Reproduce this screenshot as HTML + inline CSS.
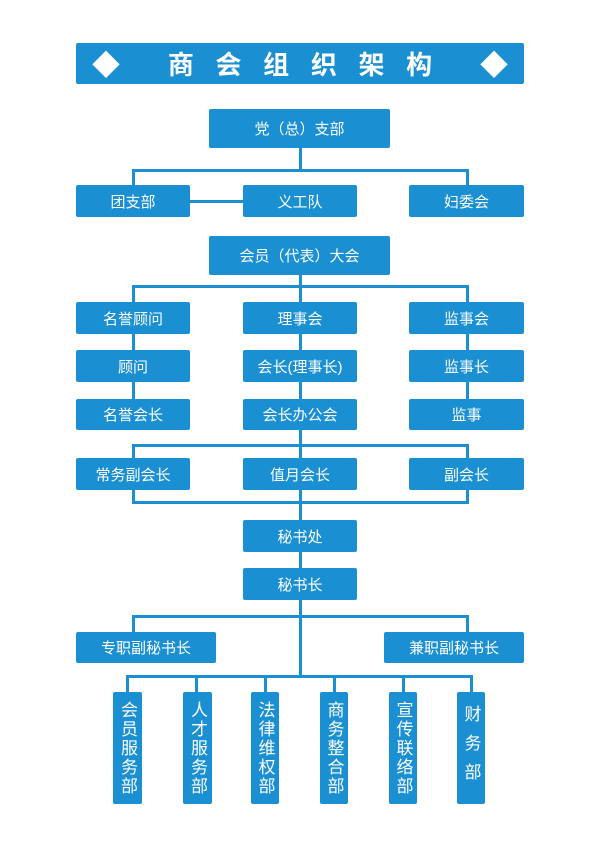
<!DOCTYPE html>
<html><head><meta charset="utf-8"><style>
body{margin:0;width:600px;height:848px;background:#fff;position:relative;overflow:hidden;font-family:"Liberation Sans","Noto Sans CJK SC",sans-serif}
.b{position:absolute;background:#1a8fd2;color:#fff;display:flex;align-items:center;justify-content:center;font-size:15px;border-radius:2px}
.l{position:absolute;background:#1a8fd2}
.v{writing-mode:vertical-rl;font-size:17px;line-height:1;letter-spacing:2px}
</style></head><body>
<div class="b" style="left:76px;top:43px;width:448px;height:41px;font-size:26px;font-weight:bold;letter-spacing:0">
<span style="position:absolute;left:16px;font-size:28px">◆</span>
<span style="word-spacing:0">商&nbsp;&nbsp;&nbsp;会&nbsp;&nbsp;&nbsp;组&nbsp;&nbsp;&nbsp;织&nbsp;&nbsp;&nbsp;架&nbsp;&nbsp;&nbsp;构</span>
<span style="position:absolute;right:16px;font-size:28px">◆</span></div>

<div class="l" style="left:299px;top:148px;width:3px;height:23px"></div>
<div class="l" style="left:132px;top:169px;width:337px;height:3px"></div>
<div class="l" style="left:132px;top:169px;width:3px;height:17px"></div>
<div class="l" style="left:466px;top:169px;width:3px;height:17px"></div>
<div class="l" style="left:190px;top:200px;width:53px;height:3px"></div>

<div class="l" style="left:299px;top:275px;width:3px;height:361px"></div>
<div class="l" style="left:132px;top:285px;width:337px;height:3px"></div>
<div class="l" style="left:132px;top:285px;width:3px;height:115px"></div>
<div class="l" style="left:466px;top:285px;width:3px;height:115px"></div>
<div class="l" style="left:132px;top:444px;width:337px;height:3px"></div>
<div class="l" style="left:132px;top:444px;width:3px;height:60px"></div>
<div class="l" style="left:466px;top:444px;width:3px;height:60px"></div>
<div class="l" style="left:132px;top:501px;width:337px;height:3px"></div>
<div class="l" style="left:132px;top:615px;width:337px;height:3px"></div>
<div class="l" style="left:132px;top:615px;width:3px;height:18px"></div>
<div class="l" style="left:466px;top:615px;width:3px;height:18px"></div>
<div class="l" style="left:299px;top:615px;width:3px;height:63px"></div>
<div class="l" style="left:126px;top:675px;width:347px;height:3px"></div>
<div class="l" style="left:126px;top:675px;width:3px;height:18px"></div>
<div class="l" style="left:195px;top:675px;width:3px;height:18px"></div>
<div class="l" style="left:264px;top:675px;width:3px;height:18px"></div>
<div class="l" style="left:333px;top:675px;width:3px;height:18px"></div>
<div class="l" style="left:402px;top:675px;width:3px;height:18px"></div>
<div class="l" style="left:470px;top:675px;width:3px;height:18px"></div>

<div class="b" style="left:209px;top:109px;width:181px;height:39px">党（总）支部</div>
<div class="b" style="left:76px;top:185px;width:114px;height:32px">团支部</div>
<div class="b" style="left:243px;top:185px;width:114px;height:32px">义工队</div>
<div class="b" style="left:409px;top:185px;width:115px;height:32px">妇委会</div>
<div class="b" style="left:209px;top:236px;width:181px;height:39px">会员（代表）大会</div>

<div class="b" style="left:76px;top:302px;width:114px;height:32px">名誉顾问</div>
<div class="b" style="left:243px;top:302px;width:114px;height:32px">理事会</div>
<div class="b" style="left:409px;top:302px;width:115px;height:32px">监事会</div>
<div class="b" style="left:76px;top:350px;width:114px;height:32px">顾问</div>
<div class="b" style="left:243px;top:350px;width:114px;height:32px">会长(理事长)</div>
<div class="b" style="left:409px;top:350px;width:115px;height:32px">监事长</div>
<div class="b" style="left:76px;top:399px;width:114px;height:31px">名誉会长</div>
<div class="b" style="left:243px;top:399px;width:114px;height:31px">会长办公会</div>
<div class="b" style="left:409px;top:399px;width:115px;height:31px">监事</div>

<div class="b" style="left:76px;top:458px;width:114px;height:32px">常务副会长</div>
<div class="b" style="left:243px;top:458px;width:114px;height:32px">值月会长</div>
<div class="b" style="left:409px;top:458px;width:115px;height:32px">副会长</div>
<div class="b" style="left:243px;top:520px;width:114px;height:32px">秘书处</div>
<div class="b" style="left:243px;top:568px;width:114px;height:32px">秘书长</div>
<div class="b" style="left:76px;top:632px;width:140px;height:31px">专职副秘书长</div>
<div class="b" style="left:384px;top:632px;width:140px;height:31px">兼职副秘书长</div>

<div class="b" style="left:113px;top:692px;width:29px;height:112px"><span class="v">会员服务部</span></div>
<div class="b" style="left:183px;top:692px;width:29px;height:112px"><span class="v">人才服务部</span></div>
<div class="b" style="left:251px;top:692px;width:28px;height:112px"><span class="v">法律维权部</span></div>
<div class="b" style="left:320px;top:692px;width:28px;height:112px"><span class="v">商务整合部</span></div>
<div class="b" style="left:389px;top:692px;width:28px;height:112px"><span class="v">宣传联络部</span></div>
<div class="b" style="left:457px;top:692px;width:28px;height:112px"><span class="v" style="letter-spacing:12px">财务部</span></div>
</body></html>
